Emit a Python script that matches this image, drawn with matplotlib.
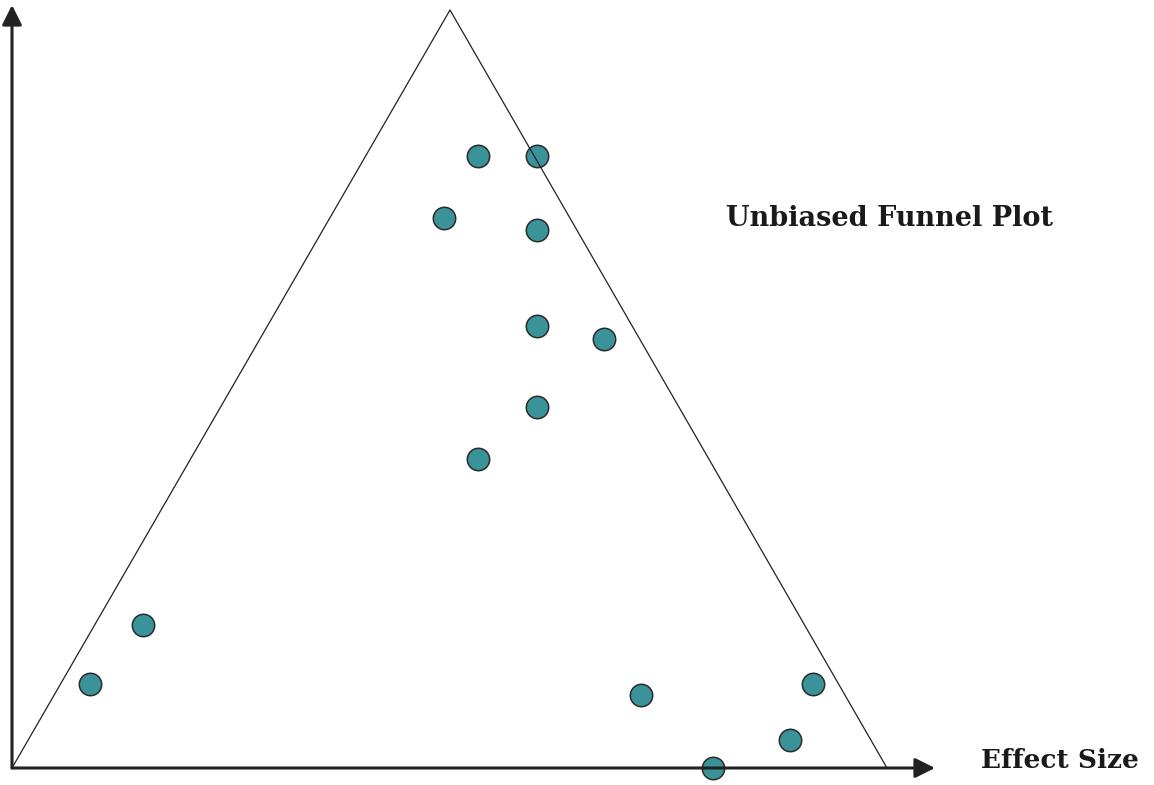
import matplotlib
matplotlib.use('Agg')
from matplotlib import pyplot as plt

# Study results: effect size (x) vs precision (y), arbitrary units
effectSize = [466, 525, 432, 525, 525, 592, 525, 466, 131, 78, 629, 801, 778, 701]
precision  = [612, 612, 550, 538, 442, 429, 361, 309, 143, 84, 73, 84, 28, 0]

# funnel outline: left base, apex, right base
funnelX = [0, 438, 875]
funnelY = [0, 758, 0]

titleText = "Unbiased Funnel Plot"
xAxisText = "Effect Size"

fig = plt.figure(figsize=(11.54, 7.85), dpi=100)
ax = fig.add_axes([0, 0, 1, 1])
# pixel-ish data space: origin sits at (12, 17) from bottom-left
ax.set_xlim(-12, 1142)
ax.set_ylim(-17, 768)
ax.axis('off')

ax.scatter(effectSize, precision, s=260, c='#3a9399', edgecolors='#2a2a2a',
           linewidths=1.1, zorder=2)
ax.plot(funnelX, funnelY, color='#222222', lw=0.9, zorder=3)

# axes as arrows
arrowStyle = dict(arrowstyle='-|>', color='#222222', lw=2.2, mutation_scale=30,
                  shrinkA=0, shrinkB=0)
ax.annotate('', xy=(923, 0), xytext=(0, 0), arrowprops=arrowStyle, zorder=4)
ax.annotate('', xy=(0, 763), xytext=(0, 0), arrowprops=arrowStyle, zorder=4)

ax.text(714, 549, titleText, fontsize=19.5, fontweight='bold', family='DejaVu Serif',
        color='#1a1a1a', va='center', ha='left')
ax.text(969, 8, xAxisText, fontsize=19, fontweight='bold', family='DejaVu Serif',
        color='#1a1a1a', va='center', ha='left')

fig.savefig('out.png', dpi=100)
